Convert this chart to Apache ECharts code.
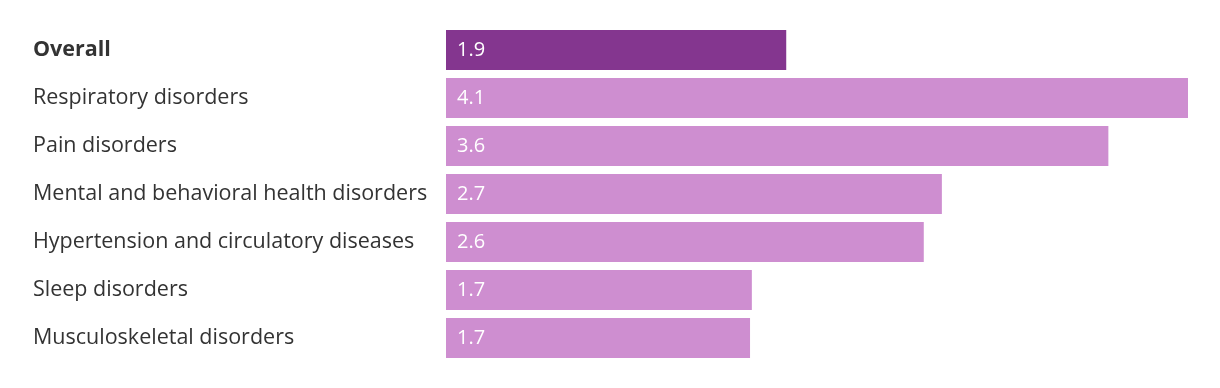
<!DOCTYPE html>
<html>
<head>
<meta charset="utf-8">
<script src="https://cdn.jsdelivr.net/npm/echarts@6/dist/echarts.min.js"></script>
<style>
html,body{margin:0;padding:0;background:#fff;}
#chart{width:1220px;height:388px;}
</style>
</head>
<body>
<div id="chart"></div>
<script>
const categories = ['Overall','Respiratory disorders','Pain disorders','Mental and behavioral health disorders','Hypertension and circulatory diseases','Sleep disorders','Musculoskeletal disorders'];
const values = [1.88, 4.10, 3.66, 2.74, 2.64, 1.69, 1.68];
const valueLabels = ['1.9','4.1','3.6','2.7','2.6','1.7','1.7'];
const colors = ['#84368F','#CE8ED0','#CE8ED0','#CE8ED0','#CE8ED0','#CE8ED0','#CE8ED0'];

const FONT = 'Open Sans';
const chart = echarts.init(document.getElementById('chart'), null, {renderer:'canvas'});
chart.setOption({
  animation:false,
  grid:{left:446, right:32, top:26, bottom:26, containLabel:false, outerBoundsMode:'none'},
  xAxis:{type:'value', min:0, max:4.1, show:false},
  yAxis:{
    type:'category', inverse:true,
    data: categories.map((c,i)=> i===0 ? {value:c, textStyle:{fontWeight:'bold', align:'left'}} : c),
    axisLine:{show:false}, axisTick:{show:false}, splitLine:{show:false},
    axisLabel:{align:'left', margin:413, color:'#333', fontSize:21.5, fontFamily:FONT}
  },
  series:[{
    type:'bar', barWidth:40,
    data: values.map((v,i)=>({value:v, itemStyle:{color:colors[i]}})),
    label:{show:true, position:'insideLeft', distance:11, color:'#fff', fontSize:20, fontFamily:FONT,
      formatter:p=>valueLabels[p.dataIndex]}
  }]
});
</script>
</body>
</html>
